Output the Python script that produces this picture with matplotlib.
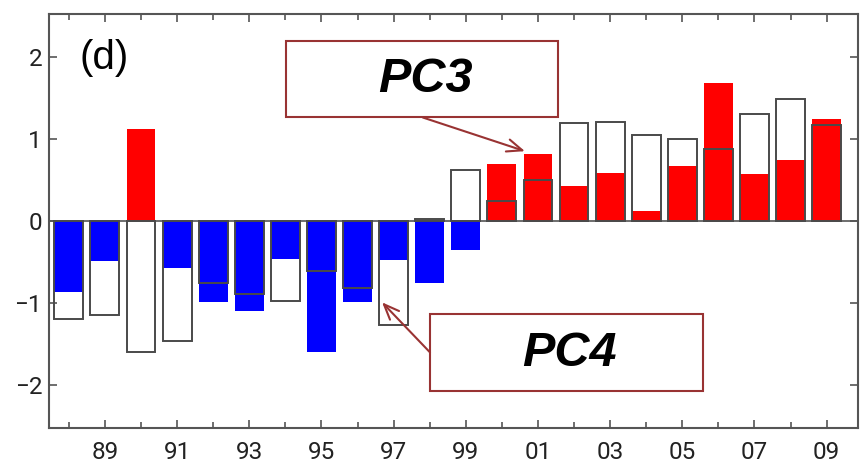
import matplotlib
matplotlib.use("Agg")
import matplotlib.pyplot as plt
import numpy as np
from matplotlib.patches import Rectangle
from matplotlib.ticker import MultipleLocator, FixedLocator

years = list(range(1988, 2010))
pc3 = [-0.87, -0.49, 1.12, -0.57, -0.98, -1.10, -0.46, -1.59, -0.99, -0.48, -0.76,
       -0.35, 0.69, 0.81, 0.42, 0.59, 0.12, 0.67, 1.68, 0.57, 0.74, 1.24]
pc4 = [-1.19, -1.14, -1.59, -1.46, -0.75, -0.89, -0.97, -0.61, -0.82, -1.26, 0.02,
       0.62, 0.24, 0.50, 1.19, 1.21, 1.05, 1.00, 0.88, 1.30, 1.48, 1.17]
major_ticks = [1989, 1991, 1993, 1995, 1997, 1999, 2001, 2003, 2005, 2007, 2009]
tick_labels = ["89", "91", "93", "95", "97", "99", "01", "03", "05", "07", "09"]
yticks = [-2, -1, 0, 1, 2]
ytick_labels = ["\u22122", "\u22121", "0", "1", "2"]

fig = plt.figure(figsize=(8.6, 4.65), dpi=100)
ax = fig.add_axes([49/860, 37/465, 809/860, 414/465])

colors = ["red" if v >= 0 else "blue" for v in pc3]
ax.bar(years, pc3, width=0.8, color=colors, edgecolor="none", zorder=2)
ax.bar(years, pc4, width=0.8, facecolor="none", edgecolor="#4a4a4a", linewidth=1.4, zorder=3)
ax.axhline(0, color="#555555", linewidth=1.2, zorder=1)

ax.set_xlim(1987.45, 2009.87)
ax.set_ylim(-2.52, 2.52)
ax.xaxis.set_major_locator(FixedLocator(major_ticks))
ax.set_xticklabels(tick_labels)
ax.xaxis.set_minor_locator(FixedLocator([y for y in years if y not in major_ticks]))
ax.set_yticks(yticks)
ax.set_yticklabels(ytick_labels)
ax.tick_params(axis="both", which="both", direction="in", top=True, right=True,
               color="#555555", width=1.2)
ax.tick_params(axis="both", which="major", length=6)
ax.tick_params(axis="both", which="minor", length=4)
ax.tick_params(axis="x", which="major", pad=9)
ax.tick_params(axis="y", which="major", pad=5)
for lbl in ax.get_xticklabels() + ax.get_yticklabels():
    lbl.set_family("Roboto")
    lbl.set_fontsize(17.5)
    lbl.set_color("#222222")
for s in ax.spines.values():
    s.set_color("#555555")
    s.set_linewidth(1.5)

box_col = "#993333"
ax.text(1988.3, 1.98, "(d)", fontsize=29, family="Liberation Sans", ha="left", va="center")

arrow_style = "->,head_length=1.1,head_width=0.45"

# PC3 annotation
ax.add_patch(Rectangle((1994.02, 1.26), 7.54, 0.93, facecolor="white", edgecolor=box_col,
                       linewidth=1.5, zorder=5))
ax.text(1997.87, 1.72, "PC3", fontsize=35, fontweight="bold", fontstyle="italic",
        family="Liberation Sans", ha="center", va="center", zorder=6)
ax.annotate("", xy=(2000.64, 0.85), xytext=(1997.81, 1.26),
            arrowprops=dict(arrowstyle=arrow_style, color=box_col, lw=1.5,
                            shrinkA=0, shrinkB=0),
            zorder=6)

# PC4 annotation
ax.add_patch(Rectangle((1998.01, -2.07), 7.57, 0.94, facecolor="white", edgecolor=box_col,
                       linewidth=1.5, zorder=5))
ax.text(2001.86, -1.61, "PC4", fontsize=35, fontweight="bold", fontstyle="italic",
        family="Liberation Sans", ha="center", va="center", zorder=6)
ax.annotate("", xy=(1996.68, -0.99), xytext=(1998.01, -1.60),
            arrowprops=dict(arrowstyle=arrow_style, color=box_col, lw=1.5,
                            shrinkA=0, shrinkB=0),
            zorder=6)

fig.savefig("out.png", dpi=100)
